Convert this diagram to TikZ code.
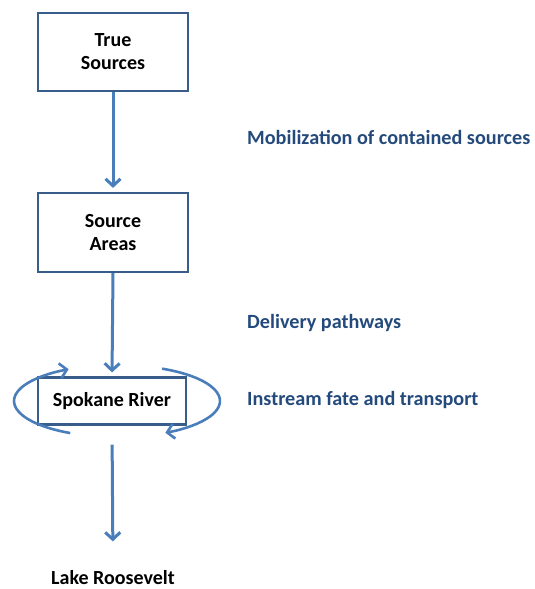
\documentclass[tikz,border=0pt]{standalone}
\usepackage{fontspec}
\setmainfont{Carlito}
\usetikzlibrary{arrows.meta}
\definecolor{boxc}{HTML}{385D8A}
\definecolor{arrc}{HTML}{4A7EBB}
\definecolor{labc}{HTML}{244A7C}
\tikzset{
  box/.style={draw=boxc, line width=2.2pt, fill=white, align=center,
    font=\fontsize{20}{23}\selectfont\bfseries, text=black},
  arr/.style={draw=arrc, line width=3pt, -{Straight Barb[length=7pt,width=15pt]}},
  lab/.style={anchor=west, inner sep=0pt, text=labc, font=\fontsize{20.2}{24}\selectfont\bfseries},
}
\begin{document}
\begin{tikzpicture}[x=1pt,y=-1pt]
\useasboundingbox (0,0) rectangle (535,589);
\node[box, minimum width=150pt, minimum height=78pt] (ts) at (113,52) {True\\Sources};
\node[box, minimum width=150pt, minimum height=79pt] (sa) at (113,232.5) {Source\\Areas};
\node[box, minimum width=148pt, minimum height=47pt] (sr) at (112,401) {Spokane River};
\node[font=\fontsize{20}{23}\selectfont\bfseries] (lr) at (113,578) {Lake Roosevelt};
\draw[arr, shorten >=4pt] (ts.south) -- (sa.north);
\draw[arr, shorten >=4pt] (sa.south) -- (sr.north);
\draw[arr, shorten <=19pt, shorten >=26pt] (sr.south) -- (lr.north);
\draw[arr, line width=2.6pt] (117,401) ++(243:103pt and 36pt) arc[start angle=243, end angle=118, x radius=103pt, y radius=36pt];
\draw[arr, line width=2.6pt] (117,401) ++(64:103pt and 36pt) arc[start angle=64, end angle=-62, x radius=103pt, y radius=36pt];
\node[lab] (l1) at (247,137) {Mobilization of contained sources};
\node[lab] (l2) at (247,323) {Delivery pathways};
\node[lab] (l3) at (247,400) {Instream fate and transport};
\end{tikzpicture}
\end{document}
